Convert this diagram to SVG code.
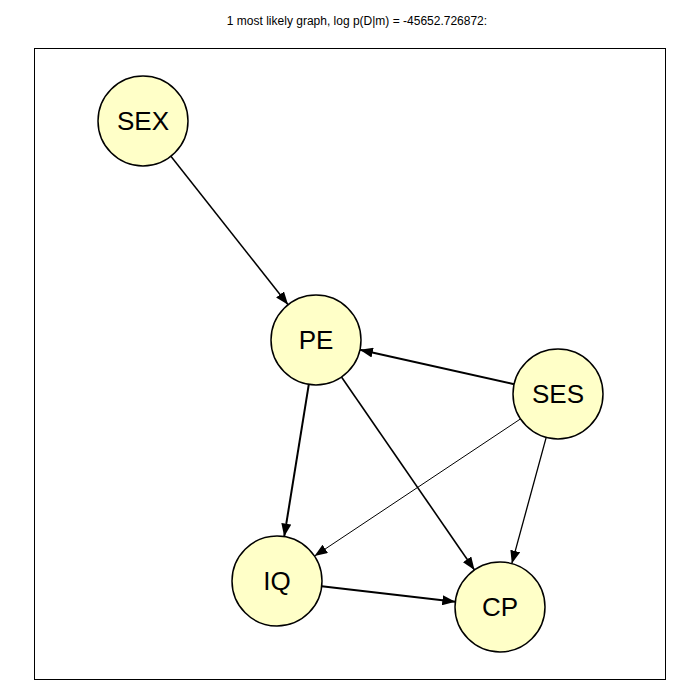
<svg xmlns="http://www.w3.org/2000/svg" width="700" height="700" viewBox="0 0 700 700">
<defs>
<marker id="ah" markerUnits="userSpaceOnUse" markerWidth="14" markerHeight="10" refX="13" refY="5" orient="auto">
<path d="M0,0 L13,5 L0,10 z" fill="#000"/>
</marker>
</defs>
<style>
.node circle{fill:#ffffc8;stroke:#000;stroke-width:1.5}
.node text{font-family:"Liberation Sans",Arial,sans-serif;font-size:26px;text-anchor:middle;dominant-baseline:central;fill:#000}
.edge{stroke:#000;fill:none;marker-end:url(#ah)}
.title{font-family:"Liberation Sans",Arial,sans-serif;font-size:12px;text-anchor:middle;fill:#000}
</style>
<rect x="0" y="0" width="700" height="700" fill="#fff"/>
<text class="title" x="357" y="25">1 most likely graph, log p(D|m) = -45652.726872:</text>
<rect x="34.5" y="48.5" width="631" height="631" fill="none" stroke="#000" stroke-width="1"/>
<g id="connectors">
<line class="edge" x1="170.9" y1="156.3" x2="288.1" y2="304.7" stroke-width="1.5"/>
<line class="edge" x1="308.8" y1="384.4" x2="284.2" y2="536.6" stroke-width="2"/>
<line class="edge" x1="341.5" y1="377.0" x2="474.5" y2="570.0" stroke-width="1.6"/>
<line class="edge" x1="514.1" y1="384.2" x2="359.9" y2="349.8" stroke-width="2"/>
<line class="edge" x1="520.5" y1="418.9" x2="314.5" y2="556.1" stroke-width="1"/>
<line class="edge" x1="546.2" y1="437.4" x2="511.8" y2="563.6" stroke-width="1.3"/>
<line class="edge" x1="321.7" y1="586.2" x2="455.3" y2="601.8" stroke-width="2"/>
</g>
<g id="SEX" class="node"><circle cx="143" cy="121" r="45"/><text x="143" y="121">SEX</text></g>
<g id="PE" class="node"><circle cx="316" cy="340" r="45"/><text x="316" y="340">PE</text></g>
<g id="SES" class="node"><circle cx="558" cy="394" r="45"/><text x="558" y="394">SES</text></g>
<g id="IQ" class="node"><circle cx="277" cy="581" r="45"/><text x="277" y="581">IQ</text></g>
<g id="CP" class="node"><circle cx="500" cy="607" r="45"/><text x="500" y="607">CP</text></g>
</svg>
